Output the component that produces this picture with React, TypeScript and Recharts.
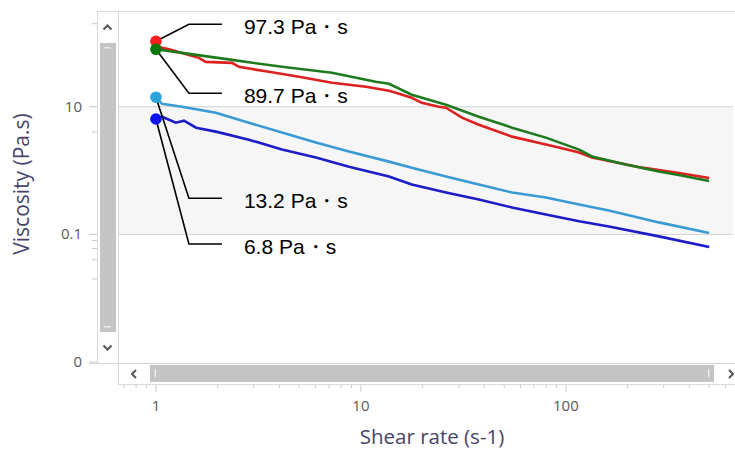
import React from 'react';
import { LineChart, Line, XAxis, YAxis, ReferenceArea, ReferenceLine, ReferenceDot } from 'recharts';

// ---- data (shear rate in 1/s, viscosity in Pa.s) ----
const shearRed = [1, 1.03, 1.16, 1.45, 1.62, 1.75, 2.35, 2.54, 3.68, 4.98, 7.22, 10.6, 11.3, 13.7, 14.8, 17.7, 19.8, 24, 26, 31.1, 37.6, 54.6, 79.8, 92.4, 116, 134, 235, 344, 500];
const viscRed = [106, 86.3, 79.4, 64.9, 58.3, 50.5, 48.7, 42.2, 34.6, 29.4, 23.7, 20.5, 19.8, 17.8, 16.5, 13.8, 11.5, 10, 9.64, 6.73, 5.23, 3.4, 2.55, 2.29, 1.91, 1.6, 1.11, 0.93, 0.764];

const shearGreen = [1, 1.34, 2.35, 4.12, 7.22, 11.8, 13.7, 17.7, 26, 37.6, 54.6, 79.8, 116, 134, 196, 284, 344, 500];
const viscGreen = [79.4, 69.8, 54.2, 42.2, 34.0, 24.6, 22.9, 15.4, 10.7, 6.98, 4.7, 3.28, 2.13, 1.66, 1.24, 0.965, 0.866, 0.686];

const shearLightBlue = [1, 1.07, 1.34, 1.96, 2.84, 4.12, 6.03, 8.74, 13.7, 17.7, 26, 37.6, 54.6, 79.8, 116, 162, 284, 500];
const viscLightBlue = [14.1, 11.1, 10.0, 8.06, 5.62, 3.93, 2.74, 1.98, 1.38, 1.11, 0.806, 0.604, 0.453, 0.378, 0.294, 0.237, 0.154, 0.105];

const shearBlue = [1, 1.07, 1.25, 1.37, 1.57, 1.96, 2.84, 4.12, 6.03, 8.74, 13.7, 17.7, 26, 37.6, 54.6, 79.8, 116, 162, 284, 500];
const viscBlue = [6.42, 6.98, 5.62, 6.04, 4.7, 4.07, 3.05, 2.13, 1.6, 1.15, 0.806, 0.604, 0.453, 0.352, 0.264, 0.205, 0.16, 0.133, 0.093, 0.0634];

const annotationLabels = ['97.3 Pa・s', '89.7 Pa・s', '13.2 Pa・s', '6.8 Pa・s'];

const xMajorTicks = [1, 10, 100];
const xMinorTicks = [0.7, 0.8, 0.9, 2, 3, 4, 5, 6, 7, 8, 9, 20, 30, 40, 50, 60, 70, 80, 90, 200, 300, 400, 500, 600];
const yMajorTicks = [0.001, 0.1, 10];
const yTickLabels = ['0', '0.1', '10'];
const yMinorTicks = [0.02, 0.04, 0.06, 0.08, 4, 200];

const X_DOMAIN = [Math.pow(10, -0.185), Math.pow(10, 2.815)];
const Y_DOMAIN = [0.001, Math.pow(10, 2.5)];

const zip = (xs: number[], ys: number[]) => xs.map((x, i) => ({ x, y: ys[i] }));

// draw order of lines: blue, light blue, red, green
const lines = [
  { key: 'blue', data: zip(shearBlue, viscBlue), stroke: '#1c1cc8' },
  { key: 'lightblue', data: zip(shearLightBlue, viscLightBlue), stroke: '#3a9ad4' },
  { key: 'red', data: zip(shearRed, viscRed), stroke: '#dd2020' },
  { key: 'green', data: zip(shearGreen, viscGreen), stroke: '#1f7a1f' },
];

// annotation markers (style: leader offset in px)
const markers = [
  { key: 'm-red', x: shearRed[0], y: viscRed[0], fill: '#ff1e1e', label: annotationLabels[0], dy: -17 },
  { key: 'm-green', x: shearGreen[0], y: viscGreen[0], fill: '#087808', label: annotationLabels[1], dy: 44 },
  { key: 'm-lb', x: shearLightBlue[0], y: viscLightBlue[0], fill: '#2ba3dc', label: annotationLabels[2], dy: 101 },
  { key: 'm-blue', x: shearBlue[0], y: viscBlue[0], fill: '#0a14f0', label: annotationLabels[3], dy: 125 },
];

const AXIS_FONT = '"Open Sans", "Noto Sans", sans-serif';
const TICK_COLOR = '#c9c9c9';

const XTick = (props: any) => {
  const { x, payload } = props;
  const v = payload.value;
  const major = xMajorTicks.includes(v);
  return (
    <g>
      <line x1={x} x2={x} y1={384} y2={major ? 392 : 388} stroke={TICK_COLOR} strokeWidth={1} />
      {major && (
        <text x={x} y={411} textAnchor="middle" fontSize={15} fontFamily={AXIS_FONT} fill="#5a5a5a">
          {String(v)}
        </text>
      )}
    </g>
  );
};

const YTick = (props: any) => {
  const { y, payload } = props;
  const v = payload.value;
  const idx = yMajorTicks.indexOf(v);
  const major = idx >= 0;
  return (
    <g>
      <line x1={major ? 89 : 92} x2={97} y1={y} y2={y} stroke={TICK_COLOR} strokeWidth={1} />
      {major && (
        <text x={82} y={y + 5} textAnchor="end" fontSize={15} fontFamily={AXIS_FONT} fill="#5a5a5a">
          {yTickLabels[idx]}
        </text>
      )}
    </g>
  );
};

const makeMarkerShape = (m: any) => (props: any) => {
  const { cx, cy } = props;
  const ex = cx + 33;
  const ey = cy + m.dy;
  return (
    <g>
      <polyline points={`${cx},${cy} ${ex},${ey} ${cx + 66},${ey}`} fill="none" stroke="#000" strokeWidth={1.6} />
      <circle cx={cx} cy={cy} r={5.8} fill={m.fill} />
      <text x={cx + 88} y={ey + 10} fontSize={21} fontFamily='"Liberation Sans", Arial, sans-serif' fill="#000">
        {m.label}
      </text>
    </g>
  );
};

const Chrome = () => (
  <svg width={735} height={450} style={{ position: 'absolute', left: 0, top: 0, pointerEvents: 'none' }}>
    {/* frame */}
    <line x1={97} x2={735} y1={11.5} y2={11.5} stroke="#d9d9d9" />
    <line x1={97.5} x2={97.5} y1={11} y2={363} stroke="#d9d9d9" />
    <line x1={118.5} x2={118.5} y1={11} y2={384} stroke="#d9d9d9" />
    <line x1={89} x2={735} y1={363.5} y2={363.5} stroke="#d4d4d4" />
    <line x1={118} x2={735} y1={384.5} y2={384.5} stroke="#d9d9d9" />
    {/* vertical scrollbar */}
    <rect x={100} y={43} width={16} height={289} fill="#c4c4c4" />
    <rect x={104} y={47} width={7} height={1.5} fill="#ececec" />
    <rect x={104} y={326} width={7} height={1.5} fill="#ececec" />
    <path d="M103.5,29.5 L107.5,25.5 L111.5,29.5" fill="none" stroke="#555" strokeWidth={2} />
    <path d="M103.5,345.5 L107.5,349.5 L111.5,345.5" fill="none" stroke="#555" strokeWidth={2} />
    {/* horizontal scrollbar */}
    <rect x={150} y={365} width={564} height={17} fill="#c4c4c4" />
    <rect x={154.5} y={369} width={1.5} height={8} fill="#ececec" />
    <rect x={708} y={369} width={1.5} height={8} fill="#ececec" />
    <path d="M136,370 L132,374 L136,378" fill="none" stroke="#555" strokeWidth={2} />
    <path d="M729,370 L733,374 L729,378" fill="none" stroke="#555" strokeWidth={2} />
    {/* axis titles */}
    <text x={432} y={444} textAnchor="middle" fontSize={20.5} fontFamily={AXIS_FONT} fill="#45456a">
      Shear rate (s-1)
    </text>
    <text
      x={0}
      y={0}
      transform="translate(29,184) rotate(-90)"
      textAnchor="middle"
      fontSize={21}
      fontFamily={AXIS_FONT}
      fill="#45456a"
    >
      Viscosity (Pa.s)
    </text>
  </svg>
);

export default function App() {
  return (
    <div style={{ position: 'absolute', left: 0, top: 0, width: 735, height: 450, background: '#fff' }}>
      <LineChart width={735} height={450} margin={{ top: 11, right: 2, bottom: 0, left: 0 }}>
        <XAxis
          dataKey="x"
          type="number"
          scale="log"
          domain={X_DOMAIN}
          allowDataOverflow
          ticks={[...xMajorTicks, ...xMinorTicks]}
          interval={0}
          tick={(p: any) => <XTick {...p} />}
          tickLine={false}
          axisLine={false}
          height={88}
        />
        <YAxis
          dataKey="y"
          type="number"
          scale="log"
          domain={Y_DOMAIN}
          allowDataOverflow
          ticks={[...yMajorTicks, ...yMinorTicks]}
          interval={0}
          tick={(p: any) => <YTick {...p} />}
          tickLine={false}
          axisLine={false}
          width={118}
        />
        <ReferenceArea y1={0.1} y2={10} fill="#f6f6f6" fillOpacity={1} stroke="none" />
        <ReferenceLine y={10} stroke="#d2d2d2" strokeWidth={1} />
        <ReferenceLine y={0.1} stroke="#d2d2d2" strokeWidth={1} />
        {lines.map((l) => (
          <Line
            key={l.key}
            data={l.data}
            dataKey="y"
            type="linear"
            stroke={l.stroke}
            strokeWidth={2.6}
            dot={false}
            activeDot={false}
            isAnimationActive={false}
          />
        ))}
        {markers.map((m) => (
          <ReferenceDot key={m.key} x={m.x} y={m.y} r={6} shape={makeMarkerShape(m)} />
        ))}
      </LineChart>
      <Chrome />
    </div>
  );
}
